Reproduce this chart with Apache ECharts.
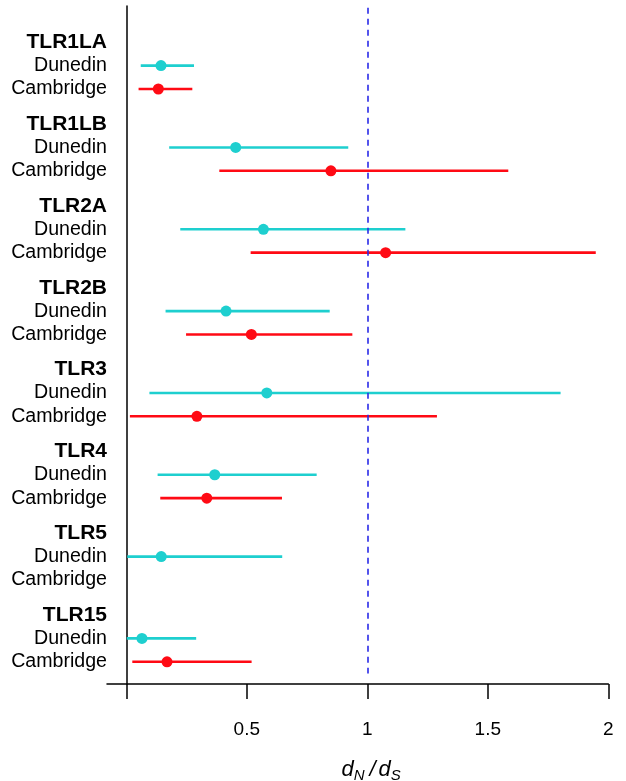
<!DOCTYPE html>
<html>
<head>
<meta charset="utf-8">
<script src="https://cdn.jsdelivr.net/npm/echarts@6/dist/echarts.min.js"></script>
<style>html,body{margin:0;padding:0;background:#fff;}#c{width:626px;height:781px;}</style>
</head>
<body>
<div id="c"></div>
<script>
const genes = ['TLR1LA','TLR1LB','TLR2A','TLR2B','TLR3','TLR4','TLR5','TLR15'];
const populations = ['Dunedin','Cambridge'];
const dunedinEst  = [0.144, 0.454, 0.569, 0.414, 0.583, 0.367, 0.145, 0.065];
const dunedinLow  = [0.060, 0.178, 0.224, 0.163, 0.096, 0.130, 0.004, 0.002];
const dunedinHigh = [0.281, 0.921, 1.158, 0.844, 1.802, 0.790, 0.647, 0.290];
const cambridgeEst  = [0.133, 0.849, 1.076, 0.519, 0.293, 0.334, null, 0.169];
const cambridgeLow  = [0.051, 0.386, 0.516, 0.248, 0.015, 0.141, null, 0.025];
const cambridgeHigh = [0.274, 1.585, 1.948, 0.938, 1.289, 0.646, null, 0.520];
const xTickValues = [0, 0.5, 1, 1.5, 2];
const xLabelValues = [0.5, 1, 1.5, 2];
const refValue = 1;

// row layout: header, Dunedin, Cambridge, then half-row gap
const GROUP = 3.5;
const rowPos = (g, r) => g * GROUP + r;
const labelMap = {};
const labelPositions = [];
genes.forEach((g, i) => {
  labelMap[rowPos(i,0).toFixed(2)] = '{h|' + g + '}';
  labelMap[rowPos(i,1).toFixed(2)] = '{s|' + populations[0] + '}';
  labelMap[rowPos(i,2).toFixed(2)] = '{s|' + populations[1] + '}';
  labelPositions.push(rowPos(i,0), rowPos(i,1), rowPos(i,2));
});

function buildIntervals(low, high, r) {
  const out = [];
  genes.forEach((g, i) => { if (low[i] != null) out.push([low[i], high[i], rowPos(i, r)]); });
  return out;
}
function buildPoints(est, r) {
  const out = [];
  genes.forEach((g, i) => { if (est[i] != null) out.push([est[i], rowPos(i, r)]); });
  return out;
}
function intervalRender(color) {
  return function (params, api) {
    const p1 = api.coord([api.value(0), api.value(2)]);
    const p2 = api.coord([api.value(1), api.value(2)]);
    return { type: 'line', shape: { x1: p1[0], y1: p1[1], x2: p2[0], y2: p2[1] },
      style: { stroke: color, lineWidth: 2.6 } };
  };
}
const CYAN = '#1ecfcf', RED = '#ff0a14';

const chart = echarts.init(document.getElementById('c'), null, { renderer: 'canvas' });
chart.setOption({
  animation: false,
  backgroundColor: '#ffffff',
  grid: { left: 107, right: 17.7, top: 6, bottom: 97, containLabel: false, outerBoundsMode: 'none' },
  xAxis: {
    type: 'value', min: -0.08, max: 2,
    axisLine: { onZero: false, lineStyle: { color: '#000', width: 1.5 } },
    axisTick: { show: true, length: 15, customValues: xTickValues, lineStyle: { color: '#000', width: 1.5 } },
    axisLabel: { customValues: xLabelValues, margin: 36, fontSize: 19, color: '#000', fontFamily: 'Liberation Sans',
      formatter: v => String(v) },
    splitLine: { show: false },
    name: '{i|d}{sub|N}{sl|/}{i|d}{sub|S}', nameLocation: 'middle', nameGap: 72,
    nameTextStyle: { padding: [0, 0, 0, 27], rich: {
      i: { fontSize: 22, fontStyle: 'italic', fontFamily: 'Liberation Sans', color: '#000' },
      sl: { fontSize: 22, fontStyle: 'italic', fontFamily: 'Liberation Sans', color: '#000', padding: [0, 3, 0, 5] },
      sub: { fontSize: 15, fontStyle: 'italic', fontFamily: 'Liberation Sans', color: '#000', verticalAlign: 'bottom', padding: [12,0,0,0] }
    } }
  },
  yAxis: {
    type: 'value', min: -1.55, max: 27.45, inverse: true,
    axisLine: { show: true, onZero: true, lineStyle: { color: '#000', width: 1.5 } },
    axisTick: { show: false },
    splitLine: { show: false },
    axisLabel: {
      customValues: labelPositions, margin: 0, color: '#000',
      formatter: v => labelMap[Number(v).toFixed(2)] || '',
      rich: {
        h: { fontSize: 21, fontWeight: 'bold', fontFamily: 'Liberation Sans', color: '#000' },
        s: { fontSize: 19.6, fontFamily: 'Liberation Sans', color: '#000' }
      }
    }
  },
  series: [
    { type: 'custom', name: 'Dunedin CI', renderItem: intervalRender(CYAN), data: buildIntervals(dunedinLow, dunedinHigh, 1),
      encode: { x: [0,1], y: 2 }, silent: true, z: 2,
      markLine: { silent: true, symbol: 'none', label: { show: false },
        lineStyle: { color: '#2a2ae8', type: [6,5], width: 1.6 },
        data: [[{ coord: [refValue, -1.47] }, { coord: [refValue, 27.0] }]] } },
    { type: 'custom', name: 'Cambridge CI', renderItem: intervalRender(RED), data: buildIntervals(cambridgeLow, cambridgeHigh, 2),
      encode: { x: [0,1], y: 2 }, silent: true, z: 2 },
    { type: 'scatter', name: 'Dunedin', data: buildPoints(dunedinEst, 1), symbolSize: 11, itemStyle: { color: CYAN, opacity: 1 }, z: 3 },
    { type: 'scatter', name: 'Cambridge', data: buildPoints(cambridgeEst, 2), symbolSize: 11, itemStyle: { color: RED, opacity: 1 }, z: 3 }
  ]
});
</script>
</body>
</html>
